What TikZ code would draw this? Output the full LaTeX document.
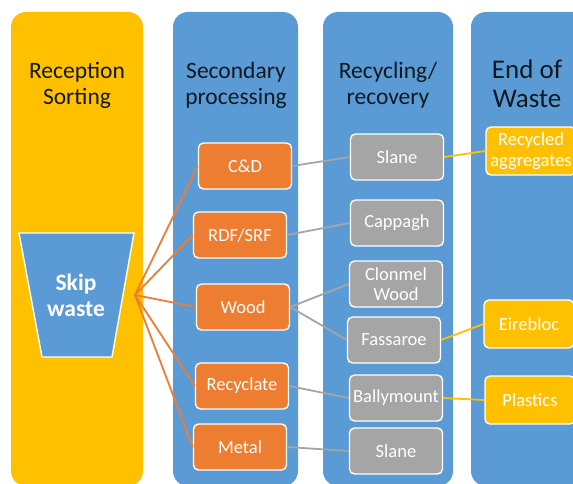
\documentclass[tikz,border=0pt]{standalone}
\usepackage{fontspec}
\setmainfont{Carlito}
\definecolor{colyellow}{HTML}{FFC000}
\definecolor{colblue}{HTML}{5B9BD5}
\definecolor{colorange}{HTML}{ED7D31}
\definecolor{colgray}{HTML}{A5A5A5}
\definecolor{headtext}{HTML}{101820}
\tikzset{
  column/.style={rounded corners=15pt},
  heading/.style={text=headtext, align=center, font=\fontsize{23.5}{26}\selectfont},
  box/.style={draw=white, line width=1.4pt, rounded corners=5pt, text=white,
    align=center, inner sep=0pt, font=\fontsize{18.5}{20.5}\selectfont},
  stream/.style={box, fill=colorange, minimum width=93pt, minimum height=46pt},
  site/.style={box, fill=colgray, minimum width=93pt, minimum height=46pt},
  product/.style={box, fill=colyellow, minimum width=90pt, minimum height=48pt},
  feed/.style={draw=colorange, line width=1.8pt},
  link/.style={draw=colgray, line width=1.8pt},
  outlink/.style={draw=colyellow, line width=1.8pt},
}
\begin{document}
\begin{tikzpicture}[x=1pt,y=-1pt]
\useasboundingbox (0,0) rectangle (573,484);
\clip (0,0) rectangle (573,484);
\fill[white] (0,0) rectangle (573,484);

% stage columns
\fill[colyellow, column] (11,12) rectangle (143,486);
\fill[colblue, column] (173,12) rectangle (298,486);
\fill[colblue, column] (323,12) rectangle (453,486);
\fill[colblue, column] (471,12) rectangle (620,486);

% column headings
\node[heading] (h1) at (77,85) {Reception\\Sorting};
\node[heading] (h2) at (236,85) {Secondary\\processing};
\node[heading] (h3) at (388,85) {Recycling/\\recovery};
\node[heading, font=\fontsize{27}{29}\selectfont] (h4) at (527,84) {End of\\Waste};

% skip
\fill[colblue, draw=white, line width=1.4pt] (19,233) -- (134,233) -- (112,357) -- (42,357) -- cycle;
\node[text=white, align=center, font=\fontsize{23.5}{26}\selectfont\bfseries] (skip) at (76,295) {Skip\\waste};
\coordinate (apex) at (135,295);

% secondary streams
\node[stream] (cd) at (245,166) {C\&D};
\node[stream] (rdf) at (240,235) {RDF/SRF};
\node[stream] (wood) at (243,307) {Wood};
\node[stream] (recy) at (242,386) {Recyclate};
\node[stream] (metal) at (240,447) {Metal};

% recycling / recovery sites
\node[site] (slane) at (397,157) {Slane};
\node[site] (capp) at (397,223) {Cappagh};
\node[site] (clon) at (396,284) {Clonmel\\Wood};
\node[site] (fass) at (394,340) {Fassaroe};
\node[site] (bally) at (396,398) {Ballymount};
\node[site] (slane2) at (396,451) {Slane};

% end-of-waste products
\node[product] (aggr) at (531,151) {Recycled\\aggregates};
\node[product] (eire) at (529,324) {Eirebloc};
\node[product] (plast) at (530,400) {Plastics};

% connectors
\foreach \t in {cd,rdf,wood,recy,metal}
  \draw[feed] (apex) -- (\t.west);
\draw[link] (cd.east) -- (slane.west);
\draw[link] (rdf.east) -- (capp.west);
\draw[link] (wood.east) -- (clon.west);
\draw[link] (wood.east) -- (fass.west);
\draw[link] (recy.east) -- (bally.west);
\draw[link] (metal.east) -- (slane2.west);
\draw[outlink] (slane.east) -- (aggr.west);
\draw[outlink] (fass.east) -- (eire.west);
\draw[outlink] (bally.east) -- (plast.west);
\end{tikzpicture}
\end{document}
